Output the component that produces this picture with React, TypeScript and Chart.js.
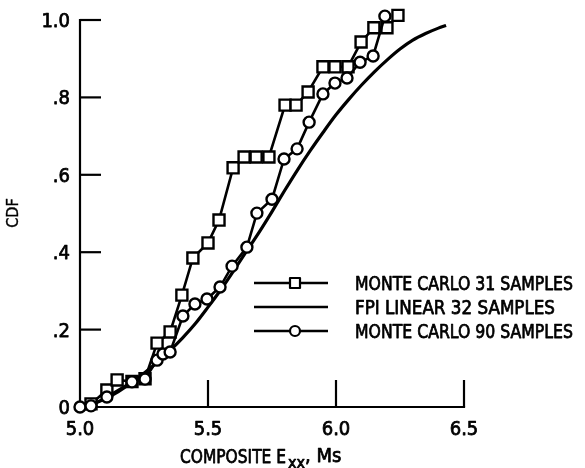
import React, { useEffect, useRef } from 'react';
import { Chart, registerables } from 'chart.js';

Chart.register(...registerables);

// Monte Carlo, 31 samples (squares)
const mc31X = [5.043, 5.105, 5.145, 5.203, 5.254, 5.301, 5.352, 5.398, 5.441, 5.5, 5.543, 5.598, 5.641, 5.688, 5.738, 5.801, 5.844, 5.891, 5.949, 5.996, 6.047, 6.098, 6.148, 6.199, 6.242];
const mc31Y = [0.008, 0.044, 0.07, 0.066, 0.073, 0.165, 0.194, 0.289, 0.385, 0.424, 0.483, 0.618, 0.646, 0.646, 0.646, 0.78, 0.78, 0.814, 0.879, 0.879, 0.879, 0.943, 0.98, 0.98, 1.012];

// FPI linear, 32 samples (solid curve)
const fpiX = [5.0, 5.05, 5.1, 5.15, 5.2, 5.25, 5.3, 5.35, 5.4, 5.45, 5.5, 5.55, 5.6, 5.65, 5.7, 5.75, 5.8, 5.85, 5.9, 5.95, 6.0, 6.05, 6.1, 6.15, 6.2, 6.25, 6.3, 6.35, 6.4, 6.43];
const fpiY = [0.0, 0.008, 0.022, 0.04, 0.062, 0.087, 0.115, 0.145, 0.178, 0.215, 0.258, 0.303, 0.352, 0.402, 0.452, 0.505, 0.56, 0.613, 0.663, 0.71, 0.755, 0.795, 0.832, 0.866, 0.897, 0.925, 0.948, 0.965, 0.979, 0.986];

// Monte Carlo, 90 samples (circles)
const mc90X = [5.0, 5.043, 5.105, 5.203, 5.254, 5.301, 5.324, 5.352, 5.402, 5.449, 5.496, 5.547, 5.594, 5.652, 5.691, 5.75, 5.797, 5.848, 5.895, 5.949, 5.996, 6.043, 6.094, 6.145, 6.191];
const mc90Y = [0.0, 0.003, 0.026, 0.065, 0.072, 0.121, 0.137, 0.142, 0.235, 0.266, 0.279, 0.31, 0.364, 0.413, 0.501, 0.537, 0.641, 0.667, 0.736, 0.809, 0.837, 0.85, 0.891, 0.907, 1.01];

const xTickValues = [5.0, 5.5, 6.0, 6.5];
const xTickLabels = ['5.0', '5.5', '6.0', '6.5'];
const yTickValues = [0, 0.2, 0.4, 0.6, 0.8, 1.0];
const yTickLabels = ['0', '.2', '.4', '.6', '.8', '1.0'];
const legendLabels = ['MONTE CARLO 31 SAMPLES', 'FPI LINEAR 32 SAMPLES', 'MONTE CARLO 90 SAMPLES'];
const yTitle = 'CDF';
const xTitleMain = 'COMPOSITE E';
const xTitleSub = 'xx';
const xTitleTail = ', Ms';

const FONT = "'DejaVu Sans Condensed', 'DejaVu Sans', sans-serif";

const toPoints = (xs: number[], ys: number[]) => xs.map((x, i) => ({ x, y: ys[i] }));

function heavyText(ctx: CanvasRenderingContext2D, text: string, x: number, y: number, maxW?: number, weight = 0.75) {
  ctx.lineWidth = weight;
  ctx.lineJoin = 'round';
  if (maxW) {
    ctx.fillText(text, x, y, maxW);
    ctx.strokeText(text, x, y, maxW);
  } else {
    ctx.fillText(text, x, y);
    ctx.strokeText(text, x, y);
  }
}

const decorPlugin = {
  id: 'decor',
  beforeDatasetsDraw(chart: any) {
    const ctx = chart.ctx as CanvasRenderingContext2D;
    const xs = chart.scales.x;
    const ys = chart.scales.y;
    const x0 = xs.getPixelForValue(5.0);
    const x1 = xs.getPixelForValue(6.5);
    const y0 = ys.getPixelForValue(0);
    const y1 = ys.getPixelForValue(1.0);
    ctx.save();
    ctx.strokeStyle = '#000';
    ctx.lineWidth = 2.2;
    ctx.lineCap = 'square';
    ctx.beginPath();
    ctx.moveTo(x0, y1);
    ctx.lineTo(x0, y0);
    ctx.lineTo(x1, y0);
    ctx.stroke();
    ctx.lineCap = 'butt';
    yTickValues.forEach((v) => {
      if (v === 0) return;
      const py = ys.getPixelForValue(v);
      ctx.beginPath();
      ctx.moveTo(x0, py);
      ctx.lineTo(x0 + 21, py);
      ctx.stroke();
    });
    xTickValues.forEach((v) => {
      if (v === 5.0) return;
      const px = xs.getPixelForValue(v);
      ctx.beginPath();
      ctx.moveTo(px, y0);
      ctx.lineTo(px, y0 - 27);
      ctx.stroke();
    });
    ctx.restore();
  },
  afterDraw(chart: any) {
    const ctx = chart.ctx as CanvasRenderingContext2D;
    const xs = chart.scales.x;
    const ys = chart.scales.y;
    const x0 = xs.getPixelForValue(5.0);
    const y0 = ys.getPixelForValue(0);
    ctx.save();
    ctx.fillStyle = '#000';
    ctx.strokeStyle = '#000';
    ctx.textBaseline = 'alphabetic';

    ctx.font = `20px ${FONT}`;
    ctx.textAlign = 'right';
    yTickValues.forEach((v, i) => {
      const py = ys.getPixelForValue(v);
      heavyText(ctx, yTickLabels[i], x0 - 10, py + 7, 36);
    });
    ctx.textAlign = 'center';
    xTickValues.forEach((v, i) => {
      const px = xs.getPixelForValue(v);
      heavyText(ctx, xTickLabels[i], px, y0 + 28, 30);
    });

    // x title with subscript
    ctx.textAlign = 'left';
    let tx = 180;
    const tb = y0 + 56;
    heavyText(ctx, xTitleMain, tx, tb, 106);
    tx += Math.min(ctx.measureText(xTitleMain).width, 106) + 2;
    ctx.font = `16px ${FONT}`;
    heavyText(ctx, xTitleSub, tx, tb + 5, 24);
    tx += Math.min(ctx.measureText(xTitleSub).width, 24);
    ctx.font = `20px ${FONT}`;
    heavyText(ctx, xTitleTail, tx, tb - 1, 38);

    // y title
    ctx.save();
    ctx.translate(18, 213);
    ctx.rotate(-Math.PI / 2);
    ctx.textAlign = 'center';
    ctx.font = `16px ${FONT}`;
    heavyText(ctx, yTitle, 0, 0, 32, 0.4);
    ctx.restore();

    // legend
    const rows = [283, 307, 331];
    const lx0 = 254;
    const lx1 = 328;
    const mx = 295;
    ctx.font = `20px ${FONT}`;
    ctx.textAlign = 'left';
    rows.forEach((ry, i) => {
      ctx.lineWidth = 2.6;
      ctx.beginPath();
      ctx.moveTo(lx0, ry);
      ctx.lineTo(lx1, ry);
      ctx.stroke();
      ctx.lineWidth = 2.2;
      if (i === 0) {
        ctx.fillStyle = '#fff';
        ctx.fillRect(mx - 5, ry - 5, 10, 10);
        ctx.strokeRect(mx - 5, ry - 5, 10, 10);
      } else if (i === 2) {
        ctx.fillStyle = '#fff';
        ctx.beginPath();
        ctx.arc(mx, ry, 5, 0, Math.PI * 2);
        ctx.fill();
        ctx.stroke();
      }
      ctx.fillStyle = '#000';
      heavyText(ctx, legendLabels[i], 355, ry + 7, i === 1 ? 200 : 218);
    });
    ctx.restore();
  },
};

export default function App() {
  const ref = useRef<HTMLCanvasElement | null>(null);
  useEffect(() => {
    document.body.style.margin = '0';
    const canvas = ref.current;
    if (!canvas) return;
    const chart = new Chart(canvas, {
      type: 'line',
      data: {
        datasets: [
          {
            label: legendLabels[2],
            data: toPoints(mc90X, mc90Y),
            borderColor: '#000',
            borderWidth: 2.6,
            pointStyle: 'circle',
            pointRadius: 5.5,
            pointBorderWidth: 2.4,
            pointBackgroundColor: '#fff',
            pointBorderColor: '#000',
            tension: 0,
            clip: false,
            order: 0,
          },
          {
            label: legendLabels[1],
            data: toPoints(fpiX, fpiY),
            borderColor: '#000',
            borderWidth: 3.2,
            pointRadius: 0,
            cubicInterpolationMode: 'monotone',
            clip: false,
            order: 1,
          },
          {
            label: legendLabels[0],
            data: toPoints(mc31X, mc31Y),
            borderColor: '#000',
            borderWidth: 2.6,
            pointStyle: 'rect',
            pointRadius: 7.8,
            pointBorderWidth: 2.4,
            pointBackgroundColor: '#fff',
            pointBorderColor: '#000',
            tension: 0,
            clip: false,
            order: 2,
          },
        ],
      } as any,
      options: {
        animation: false,
        responsive: false,
        devicePixelRatio: 1,
        layout: { padding: { left: 80, right: 121, top: 20, bottom: 61 } },
        scales: {
          x: { type: 'linear', min: 5.0, max: 6.5, display: false },
          y: { type: 'linear', min: 0, max: 1.0, display: false },
        },
        plugins: {
          legend: { display: false },
          tooltip: { enabled: false },
        },
      },
      plugins: [decorPlugin],
    });
    return () => chart.destroy();
  }, []);
  return (
    <div style={{ position: 'absolute', left: 0, top: 0, width: 585, height: 468, background: '#fff' }}>
      <canvas ref={ref} width={585} height={468} style={{ display: 'block', width: 585, height: 468 }} />
    </div>
  );
}
